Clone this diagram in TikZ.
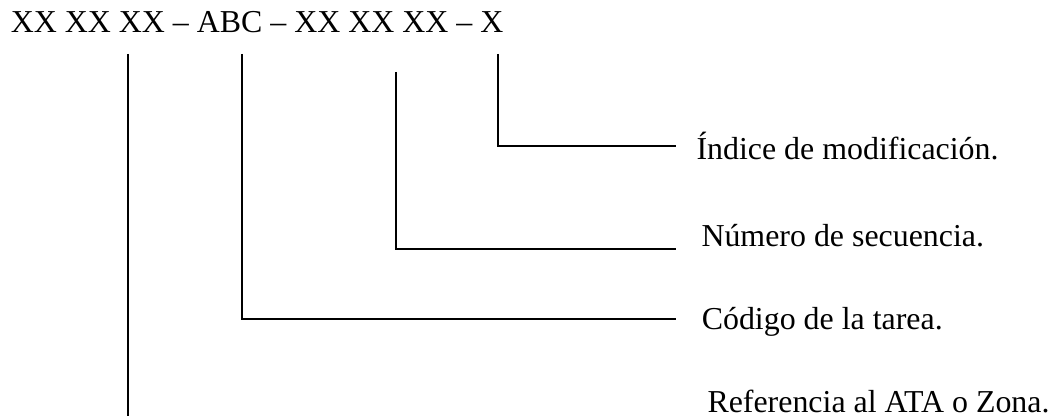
\documentclass[tikz,border=0pt]{standalone}
\usepackage{fontspec}
\setmainfont{Liberation Serif}
\begin{document}
\begin{tikzpicture}[x=0.5pt,y=-0.5pt,
  lbl/.style={anchor=base west,inner sep=0pt,outer sep=0pt,font=\fontsize{15.95}{19}\selectfont},
  conn/.style={line width=1pt,draw=black}]
\useasboundingbox (0,0) rectangle (1058,416);
\node[lbl] (code) at (10.8,33) {XX XX XX – ABC – XX XX XX – X};
\node[lbl] (idx) at (696.5,159.5) {Índice de modificación.};
\node[lbl] (seq) at (701.5,246.7) {Número de secuencia.};
\node[lbl] (task) at (701.8,329.3) {Código de la tarea.};
\node[lbl] (ata) at (707.5,412.3) {Referencia al ATA o Zona.};
% connector ends
\coordinate (s1) at (127.7,54);
\coordinate (e1) at (127.7,416);
\coordinate (s2) at (242,54);
\coordinate (e2) at (676,318.5);
\coordinate (s3) at (396,72);
\coordinate (e3) at (676,249.3);
\coordinate (s4) at (498,54);
\coordinate (e4) at (676,146.3);
\draw[conn] (s1) -- (e1);
\draw[conn] (s2) |- (e2);
\draw[conn] (s3) |- (e3);
\draw[conn] (s4) |- (e4);
\end{tikzpicture}
\end{document}
